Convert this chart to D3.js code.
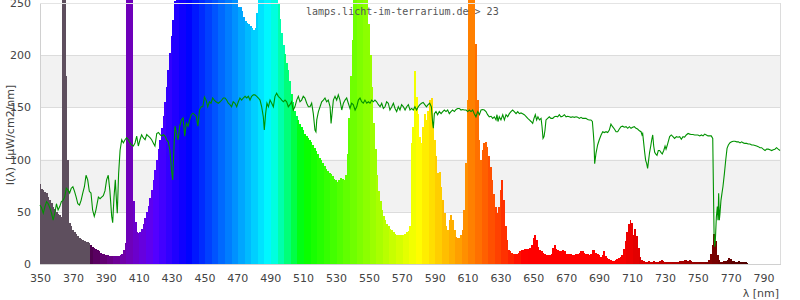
<!DOCTYPE html>
<html>
<head>
<meta charset="utf-8">
<script src="https://cdn.jsdelivr.net/npm/d3@7"></script>
<style>
html,body{margin:0;padding:0;background:#fff;}
svg{display:block;}
</style>
</head>
<body>
<svg id="chart" width="800" height="300"></svg>
<script>
// ---------- data ----------
const title = "lamps.licht-im-terrarium.de > 23";
const yTitle = "I(\u03bb)  [\u00b5W/cm2/nm]";
const xTitle = "\u03bb [nm]";
const xTicks = d3.range(350, 791, 20);
const yTicks = [0, 50, 100, 150, 200, 250];

// lamp spectrum, one value per nm, 350 .. 780
const specStart = 350;
const specI = [
  77, 72, 71, 69, 68, 64, 61, 58, 55, 53,
  50, 48, 47, 45, 260, 420, 180, 100, 39, 36,
  33, 31, 29, 27, 25, 24, 23, 22, 21, 21,
  20, 18, 16, 15, 14, 13, 12, 11, 10, 10,
  9, 9, 8, 8, 8, 8, 8, 8, 8, 9,
  10, 13, 20, 280, 400, 380, 270, 60, 40, 31,
  30, 31, 34, 38, 44, 50, 56, 63, 71, 80,
  90, 100, 110, 119, 130, 142, 155, 170, 186, 202,
  218, 234, 252, 262, 275, 300, 380, 320, 300, 295,
  295, 298, 300, 302, 305, 305, 305, 303, 300, 300,
  298, 296, 295, 295, 294, 293, 292, 290, 290, 288,
  286, 285, 283, 280, 278, 275, 272, 268, 265, 262,
  255, 246, 246, 242, 237, 233, 231, 230, 228, 226,
  224, 226, 240, 262, 270, 278, 285, 290, 300, 320,
  340, 360, 340, 300, 275, 250, 235, 221, 210, 201,
  193, 186, 175, 163, 155, 147, 142, 138, 134, 131,
  128, 125, 123, 121, 119, 117, 114, 111, 108, 105,
  102, 100, 97, 94, 91, 89, 87, 86, 84, 81,
  80, 79, 80, 82, 81, 80, 85, 105, 140, 180,
  215, 260, 300, 320, 340, 380, 450, 400, 320, 270,
  230, 200, 170, 135, 110, 85, 70, 60, 52, 46,
  42, 38, 36, 34, 33, 31, 29, 28, 28, 28,
  28, 28, 29, 31, 32, 36, 116, 131, 185, 160,
  144, 122, 116, 131, 144, 138, 147, 157, 159, 135,
  119, 103, 87, 88, 74, 61, 49, 36, 33, 42,
  47, 42, 33, 26, 25, 25, 28, 33, 52, 97,
  157, 320, 400, 380, 300, 211, 157, 119, 100, 109,
  116, 117, 112, 103, 93, 80, 67, 55, 49, 55,
  71, 80, 61, 36, 23, 13, 12, 11, 10, 10,
  10, 11, 12, 13, 13, 14, 14, 14, 15, 18,
  25, 28, 23, 16, 13, 12, 11, 10, 9, 9,
  9, 10, 15, 18, 14, 13, 12, 12, 13, 12,
  10, 10, 10, 10, 9, 9, 10, 10, 11, 12,
  12, 11, 10, 10, 9, 10, 13, 13, 11, 10,
  9, 7, 9, 12, 8, 6, 5, 4, 3, 3,
  4, 5, 6, 7, 9, 14, 22, 31, 38, 42,
  39, 28, 34, 27, 15, 7, 4, 3, 2, 2,
  3, 2, 2, 3, 2, 2, 2, 3, 4, 3,
  2, 2, 2, 2, 2, 2, 2, 2, 2, 3,
  3, 3, 4, 4, 3, 4, 3, 2, 2, 2,
  2, 2, 2, 2, 2, 2, 2, 4, 10, 18,
  29, 22, 9, 4, 2, 2, 3, 3, 4, 6,
  5, 3, 3, 2, 2, 3, 2, 2, 2, 2,
  1
];

// reference (daylight) curve: wavelengths and intensities
const refWl = [
  350,351,352,353,354,355,356,357,358,359,360,361,362,363,364,365,366,367,368,369,
  370,371,372,373,374,375,376,377,378,379,380,381,382,383,384,385.5,386.5,387.5,388.5,389.5,
  390.5,391.5,392.5,393.6,394.2,395,395.8,396.6,397,397.8,398.7,399.7,400.7,401.7,402.7,403.7,404.7,405.7,406.8,407.8,
  408.8,409.8,410.8,411.8,412.8,413.9,414.9,415.9,416.9,417.9,418.9,419.9,421,422,423,424,425,426,427,428,
  429,430,430.7,431.5,432.1,433,434,435,436,437,438,439,440,441,442,443,444,445,446,447,
  448,449,450,451,452,453,454,455,456,457,458.5,459.5,460.5,461.5,462.5,463.5,464.5,465.5,466.5,467.5,
  468.6,469.6,470.6,471.6,472.6,473.6,474.7,475.7,476.7,477.7,478.7,479.7,480.7,481.8,482.8,483.8,484.8,485.8,486.4,487.2,
  488,488.9,489.9,490.9,491.9,492.9,493.9,494.9,496,497,498,499,500,501,502,503,504,505,506.1,507.1,
  508.1,509.1,510.1,511.1,512.2,513.2,514.2,515.2,516.2,517.2,517.8,518.3,519.3,520.3,521.3,522.3,523.3,524.3,525.3,526.4,
  527,527.8,528.4,529.4,530.4,531.4,532.4,533.5,534.5,535.5,536.5,537.5,538.5,539.5,540.5,541.6,542.6,543.6,544.6,545.6,
  546.6,547.6,548.7,549.7,550.7,551.7,552.7,553.7,554.7,555.8,556.8,557.8,558.8,559.8,560.8,561.8,562.8,563.9,564.9,565.9,
  566.9,567.9,568.9,569.9,571,572,573,574,575,576,577,578,579,580,581,582,583,584,585,586,
  587,588,588.8,589.2,589.8,590.8,591.8,592.8,593.9,594.9,595.9,596.9,597.9,598.9,599.9,600.9,602,603,604,605,
  606,607,608,609.1,610.1,611.1,612.1,613.1,614.1,615.1,616.2,617.2,618.2,619.2,620.2,621.2,622.2,623.2,624.3,625.3,
  626.3,627.3,627.9,628.5,629.3,630.3,631.4,632.4,633.4,634.4,635.4,636.4,637.4,638.4,639.5,640.5,641.5,642.5,643.5,644.5,
  645.5,646.6,647.6,648.6,649.6,650.4,651.2,652,652.8,653.7,654.7,655.3,655.9,656.5,657.1,657.7,658.7,659.7,660.7,661.8,
  662.8,663.8,664.8,665.8,666.8,667.8,668.9,669.9,670.9,671.9,672.9,673.9,674.9,676,677,678,679,680,681,682,
  683,684,685,685.9,686.5,686.9,687.3,688.1,689.1,690.1,691.2,692.2,693.2,694.2,695.2,696.2,697.2,698.2,699.3,700.3,
  701.3,702.3,703.3,704.3,705.3,706.4,707.4,708.4,709.4,710.4,711.4,712.4,713.4,714.5,715.5,716.1,716.5,717.1,717.7,718.3,
  718.9,719.5,720.1,720.7,721.4,722,722.6,723.2,723.8,724.4,725.2,726,726.8,727.6,728.4,729.3,730.1,730.7,731.3,732.1,
  732.9,733.9,734.9,735.9,737,738,739,740,741,742,743,744.1,745.1,746.1,747.1,748.1,749.1,750.1,751.2,752.2,
  753.2,754.2,755.2,756.2,757.2,758.2,759.1,759.5,759.9,760.3,760.7,761.3,761.9,762.3,762.7,763.1,763.5,764.1,764.7,765.3,
  766.2,767,767.8,768.6,769.6,770.6,771.6,772.6,773.7,774.7,775.7,776.7,777.7,778.7,779.7,780.7,781.7,782.8,783.8,784.8,
  785.8,786.8,787.8,788.8,789.8,790.9,791.9,792.9,793.9,794.9,795.9,796.9,797.9,798.9,800
];
const refI = [
  56.5,53.6,48.6,55,59.7,57.7,53.6,48.6,42,48.6,57.7,51.7,55,59.7,61,64,72.6,71,68,72.6,
  74,69.6,64,57.7,56.5,61,68,74,85,80.6,69.6,68,51.7,45.6,51.7,64,62.5,64,65.5,70,
  80.6,85,70,45.6,39.5,64,80.6,57.7,48.6,86.5,109,119,116,119,121,119,116,114,113,116,
  122.5,113,119,123.8,121,119,124,122.5,121,119,116,113,125,126,124,122.5,124,122.5,119,117,
  109,89.6,80.6,113,132,125,119,132,138,140,122.5,135,132,138,143,144.5,143,141.5,132,147.5,
  150.6,150.6,160,157,150.6,155.4,154,159,157,155.4,154,155.4,157,159,159,157,154,152.6,150.6,155.4,
  154,150.6,155.4,159,157,159,160.6,159,160.6,157,160.6,162,162,160.6,159,157,150.6,141,128.3,144,
  154,150.6,157,154,150.6,160.6,163.6,160.6,159,157,155.4,157,155.4,150.6,152.6,155.4,147.5,150.6,157,160.6,
  155.4,157,160.6,159,154,150.6,150.6,154,144,128.3,126.6,138,146,150.6,155.4,157,159,155.4,157,150.6,
  134.7,147.5,157,160.6,157,162,157,147.5,154,157,159,154,149,154,152.6,147.5,150.6,157,159,155.4,
  154,157,154,155.4,154,157,155.4,157,155.4,152.6,150.6,154,149,150.6,155.4,154,147.5,150.6,154,149,
  146,150.6,147.5,152.6,150.6,147.5,150.6,152.6,147.5,149,147.5,150.6,147.5,150.6,152.6,154,154.7,152.6,150.6,152.6,
  154,150.6,134.7,130,144,146,143,146,144,146,147.5,146,147.5,144,146,147.5,146,148,149,149,
  147.5,148,147.5,147.5,146,147.5,146,147.5,144,141,146,143,147.5,148,147.5,146,143,141,141.5,139.5,
  141,138,143,136.5,141,138,143,138,143,141,144,146,147.5,146,144,146,144,144.7,144,143,
  141.5,139.5,138,136.5,134.7,139.5,143,138,141,138,139.5,131.5,120.3,122,128.3,138,139.5,141,139.5,139.5,
  141,141.5,141,143,141,141.5,143,141,141.5,141,140.5,141,140.5,141,140.5,139.5,140.5,139.5,139.5,139.5,
  138.5,138,138,136.5,125,116,96,106,114,119,123.6,126.7,125.9,126.7,125.9,128.3,134,131.5,129.3,126.7,
  126.7,129.3,131.5,132,131,131.5,130,131.5,130,131,131.5,130,129.3,127.6,126.7,123.6,125,116,107,99.3,
  96.4,91.6,99.3,107,113,119,123.6,113,107,105.5,104,108.7,108.7,107,105.5,108.7,113,110,113,117.5,
  122,123.6,122,120.3,122,121.5,122,119.5,122,121.5,123.6,125,124.4,124,124,123.6,123.6,123.6,122.7,123.6,
  122.7,124.4,123.6,122.7,122.7,122.7,120.3,74,29,16.6,23,45,55,42,67.7,42,48.5,61,67.7,74,
  86.8,99.6,110.8,114,116.2,117,117.6,117.6,117,117,116,117,116,115.5,115.5,115,115,114,114,113.5,
  113,112.4,111.4,111.4,110,108.7,110,110,109.5,108.7,109.5,110,111.4,110,108.7
];

// ---------- layout ----------
const svg = d3.select("#chart");
const x = d3.scaleLinear().domain([350, 800]).range([40, 780]);
const y = d3.scaleLinear().domain([0, 250]).range([264, 3]);
const FONT = "DejaVu Sans, Verdana, sans-serif";

// wavelength -> colour (Bruton, linear), 4 nm bands
function specColor(w) {
  if (w <= 380) return "#5e4f5e";
  const c = Math.floor((w - 351) / 4) * 4 + 352.5;
  let r = 0, g = 0, b = 0;
  if (c < 440) { r = (440 - c) / 60; b = 1; }
  else if (c < 490) { g = (c - 440) / 50; b = 1; }
  else if (c < 510) { g = 1; b = (510 - c) / 20; }
  else if (c < 580) { r = (c - 510) / 70; g = 1; }
  else if (c < 645) { r = 1; g = (645 - c) / 65; }
  else { r = 1; }
  let f = 1;
  if (c < 420) f = 0.3 + 0.7 * (c - 380) / 40;
  else if (c > 700) f = 0.3 + 0.7 * (780 - c) / 80;
  return d3.rgb(Math.round(255 * r * f), Math.round(255 * g * f), Math.round(255 * b * f)).formatHex();
}

// background bands
const bands = [[50, 100], [150, 200]];
svg.append("g").selectAll("rect").data(bands).join("rect")
  .attr("x", x(350)).attr("width", x(800) - x(350))
  .attr("y", d => y(d[1])).attr("height", d => y(d[0]) - y(d[1]))
  .attr("fill", "#f2f2f2");

// gridlines
svg.append("g").selectAll("line").data(yTicks.filter(v => v > 0)).join("line")
  .attr("x1", x(350)).attr("x2", x(800))
  .attr("y1", d => Math.round(y(d)) + 0.5).attr("y2", d => Math.round(y(d)) + 0.5)
  .attr("stroke", "#dcdcdc").attr("stroke-width", 1);

// frame lines
svg.append("line").attr("x1", 40.5).attr("x2", 40.5).attr("y1", 3).attr("y2", 264.5)
  .attr("stroke", "#d0d0d0");
svg.append("line").attr("x1", 780.5).attr("x2", 780.5).attr("y1", 3).attr("y2", 264.5)
  .attr("stroke", "#dcdcdc");

// spectrum bars
const spec = specI.map((v, i) => ({ w: specStart + i, v: v }));
svg.append("g").attr("shape-rendering", "crispEdges").selectAll("rect").data(spec).join("rect")
  .attr("x", d => Math.max(x(d.w - 0.5), x(350)))
  .attr("width", d => x(d.w + 0.5) - Math.max(x(d.w - 0.5), x(350)) + 0.3)
  .attr("y", d => y(d.v))
  .attr("height", d => y(0) - y(d.v))
  .attr("fill", d => specColor(d.w));

// top line over bars
svg.append("line").attr("x1", x(350)).attr("x2", x(800))
  .attr("y1", Math.round(y(250)) + 0.5).attr("y2", Math.round(y(250)) + 0.5)
  .attr("stroke", "#e4e4e4");

// bottom axis line
svg.append("line").attr("x1", 40).attr("x2", 781).attr("y1", 264.5).attr("y2", 264.5)
  .attr("stroke", "#d0d0d0");

// reference curve
const ref = refWl.map((w, i) => ({ w: w, v: refI[i] }));
svg.append("path").datum(ref)
  .attr("d", d3.line().x(d => x(d.w)).y(d => y(d.v)))
  .attr("fill", "none").attr("stroke", "#009200").attr("stroke-width", 1.1);

// axes
const gx = svg.append("g").attr("transform", "translate(0,264)")
  .call(d3.axisBottom(x).tickValues(xTicks).tickSize(0).tickPadding(10).tickFormat(d3.format("d")));
gx.select(".domain").remove();
gx.selectAll("text").attr("font-family", FONT).attr("font-size", 11).attr("fill", "#444");

const gy = svg.append("g").attr("transform", "translate(40,0)")
  .call(d3.axisLeft(y).tickValues(yTicks).tickSize(0).tickPadding(9).tickFormat(d3.format("d")));
gy.select(".domain").remove();
gy.selectAll("text").attr("font-family", FONT).attr("font-size", 11).attr("fill", "#444");

// titles
svg.append("text").attr("x", 306).attr("y", 15)
  .attr("font-family", "DejaVu Sans Mono, monospace").attr("font-size", 10).attr("fill", "#555")
  .text(title);

svg.append("text").attr("transform", "translate(14,135) rotate(-90)")
  .attr("text-anchor", "middle").style("white-space", "pre")
  .attr("font-family", FONT).attr("font-size", 11).attr("fill", "#444")
  .text(yTitle);

svg.append("text").attr("x", 779).attr("y", 297).attr("text-anchor", "end")
  .attr("font-family", FONT).attr("font-size", 11).attr("fill", "#444")
  .text(xTitle);
</script>
</body>
</html>
